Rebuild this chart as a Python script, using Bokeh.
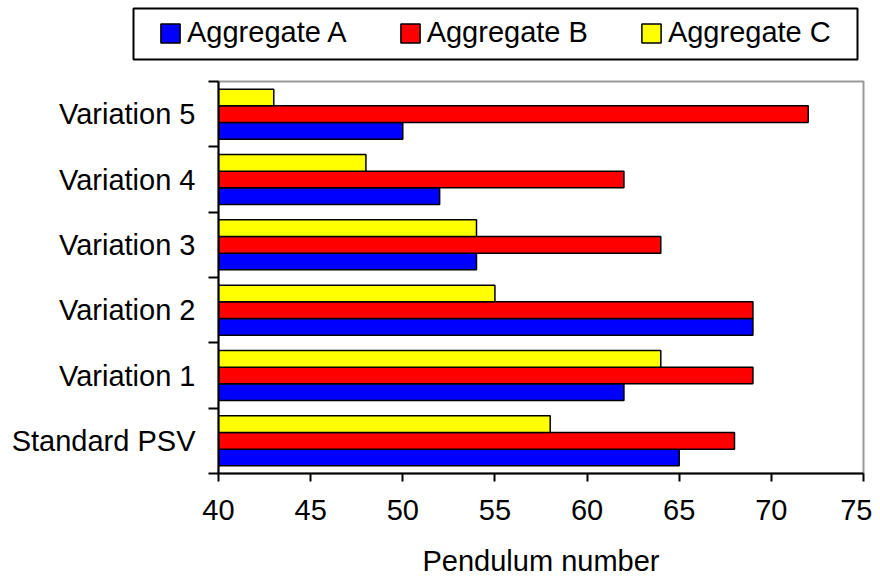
from bokeh.plotting import figure
from bokeh.layouts import column, row
from bokeh.models import Range1d, FixedTicker, Legend, LegendItem, ColumnDataSource
from bokeh.embed import file_html
from bokeh.resources import INLINE
import numpy as np

categories = ["Standard PSV", "Variation 1", "Variation 2", "Variation 3", "Variation 4", "Variation 5"]
agg_a = [65, 62, 69, 54, 52, 50]
agg_b = [68, 69, 69, 64, 62, 72]
agg_c = [58, 64, 55, 54, 48, 43]
series_names = ["Aggregate A", "Aggregate B", "Aggregate C"]
series_colors = ["#0000FF", "#FF0000", "#FFFF00"]
x_ticks = [40, 45, 50, 55, 60, 65, 70, 75]
x_label = "Pendulum number"

FONT = "Liberation Sans"
FS = "29px"
W = 872
TOTAL_H = 581
LEG_H = 64

centers = np.arange(len(categories)) + 0.5
bh = 0.255
offsets = [-bh, 0.0, bh]
sources = [ColumnDataSource(dict(y=centers + off, right=vals, left=[x_ticks[0]] * len(vals)))
           for vals, off in zip([agg_a, agg_b, agg_c], offsets)]

# ---------- main chart ----------
p = figure(width=W, height=TOTAL_H - LEG_H, output_backend="svg", toolbar_location=None,
           x_range=Range1d(40, 75), y_range=Range1d(0, len(categories)),
           min_border_left=218, min_border_right=9, min_border_top=81 - LEG_H, min_border_bottom=108)
p.background_fill_color = "white"
p.border_fill_color = "white"
p.grid.visible = False
p.outline_line_color = "#999999"
p.outline_line_width = 2

for src, color in zip(sources, series_colors):
    p.hbar(y="y", right="right", left="left", height=bh, source=src,
           fill_color=color, line_color="black", line_width=1.5)

xa = p.xaxis[0]
xa.ticker = FixedTicker(ticks=x_ticks, minor_ticks=[])
xa.axis_line_width = 2
xa.major_tick_line_width = 2
xa.major_tick_out = 8
xa.major_tick_in = 0
xa.major_label_text_font = FONT
xa.major_label_text_font_size = FS
xa.major_label_text_color = "black"
xa.major_label_standoff = 18
xa.axis_label = x_label
xa.axis_label_text_font = FONT
xa.axis_label_text_font_size = FS
xa.axis_label_text_font_style = "normal"
xa.axis_label_text_color = "black"
xa.axis_label_standoff = 22

ya = p.yaxis[0]
ya.ticker = FixedTicker(ticks=list(centers), minor_ticks=list(range(len(categories) + 1)))
ya.major_label_overrides = {float(c): lab for c, lab in zip(centers, categories)}
ya.axis_line_width = 2
ya.major_tick_line_color = None
ya.major_tick_out = 0
ya.major_tick_in = 0
ya.minor_tick_line_color = "black"
ya.minor_tick_line_width = 2
ya.minor_tick_out = 10
ya.minor_tick_in = 0
ya.major_label_text_font = FONT
ya.major_label_text_font_size = FS
ya.major_label_text_color = "black"
ya.major_label_standoff = 13

# ---------- legend strip: its frame outline is the legend box ----------
lf = figure(width=W, height=LEG_H, output_backend="svg", toolbar_location=None,
            x_axis_type=None, y_axis_type=None,
            x_range=Range1d(40, 75), y_range=Range1d(0, len(categories)),
            min_border_left=133, min_border_right=W - 857, min_border_top=8, min_border_bottom=LEG_H - 59)
lf.grid.visible = False
lf.outline_line_color = "black"
lf.outline_line_width = 2
lf.background_fill_color = "white"
lf.border_fill_color = "white"
lrs = []
for src, color in zip(sources, series_colors):
    r = lf.hbar(y="y", right="right", left="left", height=bh, source=src,
                fill_color=color, line_color="black", line_width=1.5)
    r.visible = False  # only its legend swatch is wanted here
    lrs.append(r)

legend = Legend(items=[LegendItem(label=n, renderers=[r]) for n, r in zip(series_names, lrs)],
                orientation="horizontal", location=(25, 10))
legend.label_text_font = FONT
legend.label_text_font_size = FS
legend.label_text_color = "black"
legend.glyph_width = 24
legend.glyph_height = 24
legend.label_standoff = 5
legend.spacing = 51
legend.padding = 8
legend.margin = 0
legend.border_line_color = None
legend.background_fill_alpha = 0
lf.add_layout(legend, "center")

layout = column(row(lf), row(p), spacing=0)
open("out.html", "w").write(file_html(layout, INLINE))
